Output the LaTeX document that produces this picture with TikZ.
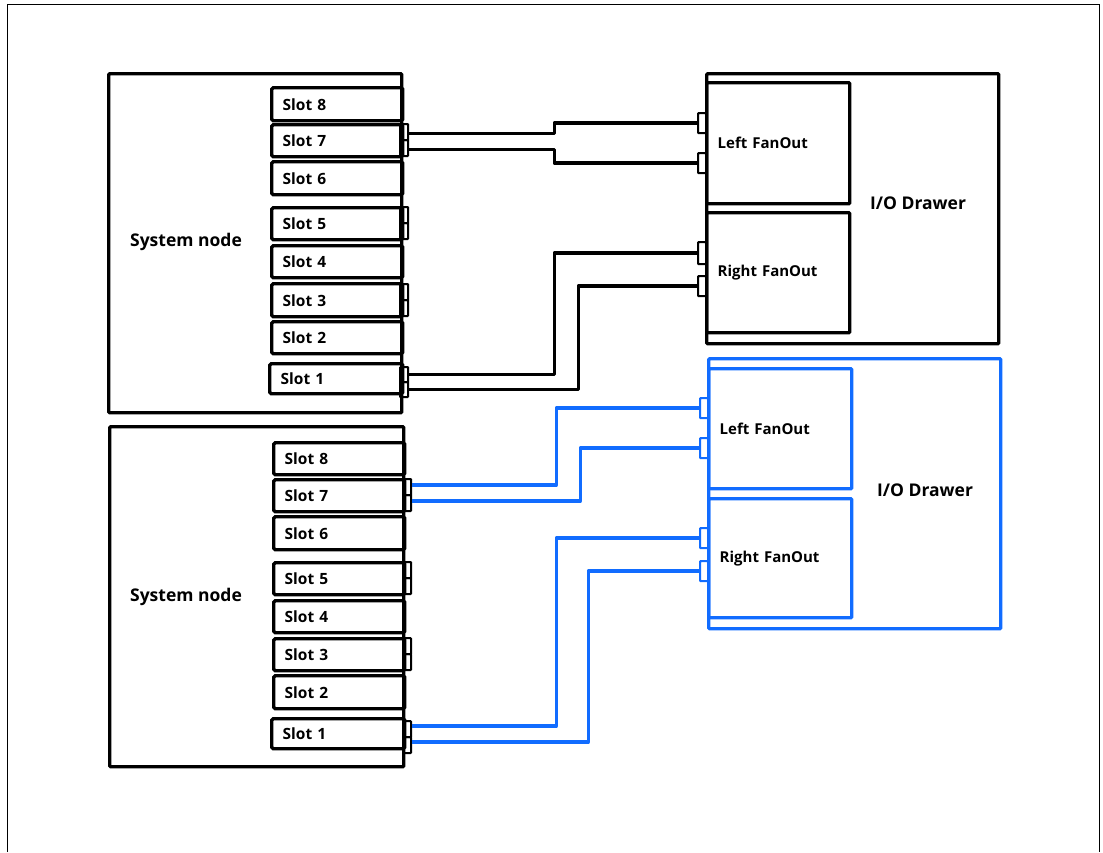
\documentclass[tikz,border=0pt]{standalone}
\usepackage{fontspec}
\setmainfont{Open Sans}
\definecolor{cblue}{RGB}{17,108,255}
\begin{document}
\begin{tikzpicture}[x=1pt,y=-1pt,
  sysbox/.style={draw, line width=3.4pt, rounded corners=1pt, inner sep=0pt, anchor=north west},
  slotbox/.style={draw, line width=3.4pt, rounded corners=1.5pt, inner xsep=11pt, inner ysep=0pt, anchor=north west,
     text width=109pt, align=left, font=\fontsize{15.5}{18}\selectfont\bfseries},
  portbox/.style={draw, line width=2.2pt, rounded corners=0.8pt, inner sep=0pt, anchor=north west, minimum width=8pt, minimum height=16pt},
  fanbox/.style={draw, line width=3.4pt, rounded corners=1pt, inner xsep=11pt, inner ysep=0pt, anchor=north west,
     text width=121pt, align=left, font=\fontsize{15}{18}\selectfont\bfseries},
  fport/.style={draw, line width=2.2pt, rounded corners=0.8pt, inner sep=0pt, anchor=north west, minimum width=8pt, minimum height=20pt},
  lbl/.style={font=\fontsize{17.5}{20}\selectfont\bfseries, inner sep=0pt},
  wire/.style={line width=3.3pt, line join=round},
  bwire/.style={wire, cblue}
]
\useasboundingbox (0,0) rectangle (1103,852);
% frame
\draw[line width=1pt] (7,852) -- (7,4) -- (1099,4) -- (1099,852);

% ===== top system node =====
\node[sysbox, minimum width=293pt, minimum height=339pt] (sysA) at (107,72) {};
\node[lbl] (sysAl) at (186,242) {System node};
\node[slotbox, minimum height=33pt] (a8) at (270,86) {Slot 8};
\node[slotbox, minimum height=32pt] (a7) at (270,123) {Slot 7};
\node[slotbox, minimum height=33pt] (a6) at (270,160) {Slot 6};
\node[slotbox, minimum height=32pt] (a5) at (270,206) {Slot 5};
\node[slotbox, minimum height=32pt] (a4) at (270,244) {Slot 4};
\node[slotbox, minimum height=33pt] (a3) at (270,282) {Slot 3};
\node[slotbox, minimum height=32pt] (a2) at (270,320) {Slot 2};
\node[slotbox, minimum height=30pt, text width=111pt] (a1) at (268,362) {Slot 1};
\node[portbox] (a7p) at (399,123) {};
\node[portbox] (a7q) at (399,139) {};
\node[portbox] (a5p) at (399,206) {};
\node[portbox] (a5q) at (399,222) {};
\node[portbox] (a3p) at (399,283) {};
\node[portbox] (a3q) at (399,299) {};
\node[portbox, minimum height=15pt] (a1p) at (399,366) {};
\node[portbox, minimum height=15pt] (a1q) at (399,381) {};

% ===== top I/O drawer =====
\node[sysbox, minimum width=292pt, minimum height=270pt] (drA) at (705,72) {};
\node[lbl] (drAl) at (918,203) {I/O Drawer};
\node[fanbox, minimum height=121pt] (lfA) at (705,81) {Left FanOut};
\node[fanbox, minimum height=120pt] (rfA) at (705,211) {Right FanOut};
\node[fport] (lfA1) at (697,112) {};
\node[fport] (lfA2) at (697,152) {};
\node[fport, minimum height=22pt] (rfA1) at (697,241) {};
\node[fport] (rfA2) at (697,275) {};

\draw[wire] (a7p.south east) ++(0,-8) -- ++(145,0) |- (lfA1.west);
\draw[wire] (a7q.south east) ++(0,-8) -- ++(145,0) |- (lfA2.west);
\draw[wire] (a1p.east) -- ++(145,0) |- (rfA1.west);
\draw[wire] (a1q.east) -- ++(169,0) |- (rfA2.west);

% ===== bottom system node =====
\node[sysbox, minimum width=294pt, minimum height=340pt] (sysB) at (108,425) {};
\node[lbl] (sysBl) at (186,597) {System node};
\node[slotbox, minimum height=32pt] (b8) at (272,441) {Slot 8};
\node[slotbox, minimum height=32pt] (b7) at (272,478) {Slot 7};
\node[slotbox, minimum height=33pt] (b6) at (272,515) {Slot 6};
\node[slotbox, minimum height=32pt] (b5) at (272,561) {Slot 5};
\node[slotbox, minimum height=32pt] (b4) at (272,599) {Slot 4};
\node[slotbox, minimum height=32pt] (b3) at (272,637) {Slot 3};
\node[slotbox, minimum height=33pt] (b2) at (272,674) {Slot 2};
\node[slotbox, minimum height=30pt, text width=111pt] (b1) at (270,717) {Slot 1};
\node[portbox] (b7p) at (402,478) {};
\node[portbox] (b7q) at (402,494) {};
\node[portbox] (b5p) at (402,561) {};
\node[portbox] (b5q) at (402,577) {};
\node[portbox] (b3p) at (402,637) {};
\node[portbox] (b3q) at (402,653) {};
\node[portbox] (b1p) at (402,720) {};
\node[portbox] (b1q) at (402,736) {};

% ===== bottom I/O drawer (blue) =====
\node[sysbox, draw=cblue, minimum width=292pt, minimum height=270pt] (drB) at (707,357) {};
\node[lbl] (drBl) at (925,490) {I/O Drawer};
\node[fanbox, draw=cblue, minimum height=120pt] (lfB) at (707,367) {Left FanOut};
\node[fanbox, draw=cblue, minimum height=119pt] (rfB) at (707,497) {Right FanOut};
\node[fport, draw=cblue] (lfB1) at (699,397) {};
\node[fport, draw=cblue] (lfB2) at (699,437) {};
\node[fport, draw=cblue] (rfB1) at (699,527) {};
\node[fport, draw=cblue] (rfB2) at (699,560) {};

\draw[bwire] (b7p.east) ++(0,-2) -- ++(144,0) |- (lfB1.west);
\draw[bwire] (b7q.east) ++(0,-2) -- ++(168,0) |- (lfB2.west);
\draw[bwire] (b1p.east) ++(0,-3) -- ++(144,0) |- (rfB1.west);
\draw[bwire] (b1q.east) ++(0,-3) -- ++(176,0) |- (rfB2.west);
\end{tikzpicture}
\end{document}
